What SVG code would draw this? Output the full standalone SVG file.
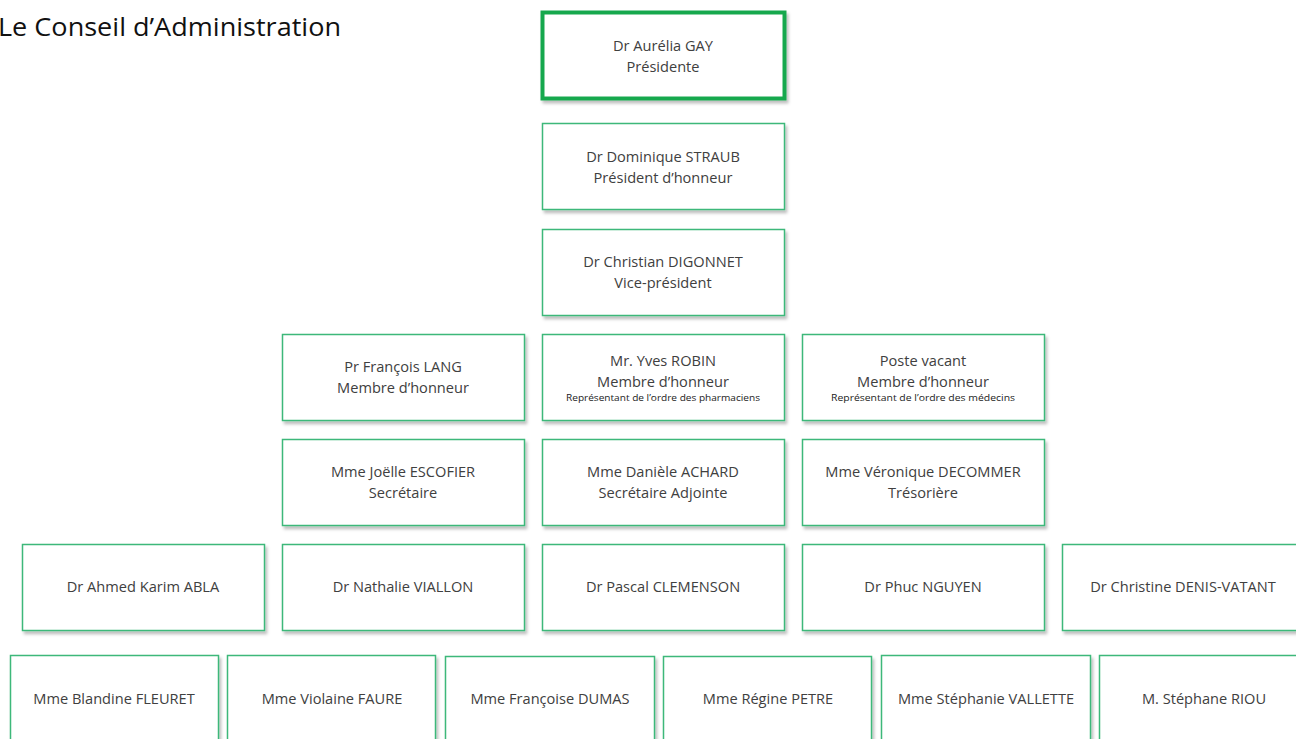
<svg xmlns="http://www.w3.org/2000/svg" width="1296" height="739" viewBox="0 0 1296 739">
<defs>
<filter id="sh" x="-5%" y="-5%" width="115%" height="125%">
<feDropShadow dx="2" dy="3" stdDeviation="1.5" flood-color="#000" flood-opacity="0.25"/>
</filter>
</defs>
<style>
.b{fill:#fff;stroke:#3db87a;stroke-width:1.5;filter:url(#sh)}
.bt{fill:#fff;stroke:#18a84e;stroke-width:4;filter:url(#sh)}
.t{font-family:"Open Sans","Noto Sans",sans-serif;font-size:14.6px;fill:#404040;text-anchor:middle}
.s{font-family:"Open Sans","Noto Sans",sans-serif;font-size:9px;fill:#222;text-anchor:middle}
.h{font-family:"Open Sans","Noto Sans",sans-serif;font-size:25px;fill:#111}
</style>
<rect width="1296" height="739" fill="#fff"/>
<text class="h" x="-2" y="36" textLength="343" lengthAdjust="spacingAndGlyphs">Le Conseil d’Administration</text>
<g id="connectors"></g>
<g id="n-gay"><rect class="bt" x="542.5" y="12.5" width="242" height="86"/><text class="t" x="663" y="51">Dr Aurélia GAY</text><text class="t" x="663" y="72">Présidente</text></g>
<g id="n-straub"><rect class="b" x="542.5" y="123.5" width="242" height="86"/><text class="t" x="663" y="162">Dr Dominique STRAUB</text><text class="t" x="663" y="183">Président d’honneur</text></g>
<g id="n-digonnet"><rect class="b" x="542.5" y="229.5" width="242" height="86"/><text class="t" x="663" y="267">Dr Christian DIGONNET</text><text class="t" x="663" y="288">Vice-président</text></g>
<g id="n-lang"><rect class="b" x="282.5" y="334.5" width="242" height="86"/><text class="t" x="403" y="372">Pr François LANG</text><text class="t" x="403" y="393">Membre d’honneur</text></g>
<g id="n-robin"><rect class="b" x="542.5" y="334.5" width="242" height="86"/><text class="t" x="663" y="366">Mr. Yves ROBIN</text><text class="t" x="663" y="387">Membre d’honneur</text><text class="s" x="663" y="401" textLength="194" lengthAdjust="spacingAndGlyphs">Représentant de l’ordre des pharmaciens</text></g>
<g id="n-vacant"><rect class="b" x="802.5" y="334.5" width="242" height="86"/><text class="t" x="923" y="366">Poste vacant</text><text class="t" x="923" y="387">Membre d’honneur</text><text class="s" x="923" y="401" textLength="184" lengthAdjust="spacingAndGlyphs">Représentant de l’ordre des médecins</text></g>
<g id="n-escofier"><rect class="b" x="282.5" y="439.5" width="242" height="86"/><text class="t" x="403" y="477">Mme Joëlle ESCOFIER</text><text class="t" x="403" y="498">Secrétaire</text></g>
<g id="n-achard"><rect class="b" x="542.5" y="439.5" width="242" height="86"/><text class="t" x="663" y="477">Mme Danièle ACHARD</text><text class="t" x="663" y="498">Secrétaire Adjointe</text></g>
<g id="n-decommer"><rect class="b" x="802.5" y="439.5" width="242" height="86"/><text class="t" x="923" y="477">Mme Véronique DECOMMER</text><text class="t" x="923" y="498">Trésorière</text></g>
<g id="n-abla"><rect class="b" x="22.5" y="544.5" width="242" height="86"/><text class="t" x="143" y="592">Dr Ahmed Karim ABLA</text></g>
<g id="n-viallon"><rect class="b" x="282.5" y="544.5" width="242" height="86"/><text class="t" x="403" y="592">Dr Nathalie VIALLON</text></g>
<g id="n-clemenson"><rect class="b" x="542.5" y="544.5" width="242" height="86"/><text class="t" x="663" y="592">Dr Pascal CLEMENSON</text></g>
<g id="n-nguyen"><rect class="b" x="802.5" y="544.5" width="242" height="86"/><text class="t" x="923" y="592">Dr Phuc NGUYEN</text></g>
<g id="n-denis"><rect class="b" x="1062.5" y="544.5" width="242" height="86"/><text class="t" x="1183" y="592">Dr Christine DENIS-VATANT</text></g>
<g id="n-fleuret"><rect class="b" x="10.5" y="655.5" width="208" height="100"/><text class="t" x="114" y="704">Mme Blandine FLEURET</text></g>
<g id="n-faure"><rect class="b" x="227.5" y="655.5" width="208" height="100"/><text class="t" x="332" y="704">Mme Violaine FAURE</text></g>
<g id="n-dumas"><rect class="b" x="445.5" y="656.5" width="209" height="100"/><text class="t" x="550" y="704">Mme Françoise DUMAS</text></g>
<g id="n-petre"><rect class="b" x="663.5" y="656.5" width="208" height="100"/><text class="t" x="768" y="704">Mme Régine PETRE</text></g>
<g id="n-vallette"><rect class="b" x="881.5" y="655.5" width="209" height="100"/><text class="t" x="986" y="704">Mme Stéphanie VALLETTE</text></g>
<g id="n-riou"><rect class="b" x="1099.5" y="655.5" width="208" height="100"/><text class="t" x="1204" y="704">M. Stéphane RIOU</text></g>
</svg>
